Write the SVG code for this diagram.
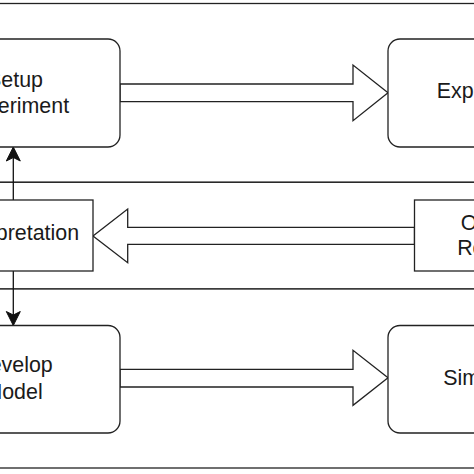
<svg xmlns="http://www.w3.org/2000/svg" width="474" height="474" viewBox="0 0 474 474">
  <defs>
    <style>
      .lane { fill: #ffffff; stroke: #222222; stroke-width: 1.3; }
      .node { fill: #ffffff; stroke: #222222; stroke-width: 1.3; }
      .block { fill: #ffffff; stroke: #222222; stroke-width: 1.3; stroke-linejoin: miter; }
      .edge { fill: none; stroke: #111111; stroke-width: 1.3; }
      .label { font-family: "Liberation Sans", Arial, sans-serif; font-size: 21.4px; fill: #1a1a1a; text-anchor: middle; }
    </style>
    <marker id="arrow" viewBox="0 0 16 16" refX="15" refY="8" markerWidth="16" markerHeight="16" markerUnits="userSpaceOnUse" orient="auto">
      <path d="M1,1 L15,8 L1,15 L4.5,8 Z" fill="#111111" stroke="#111111" stroke-width="1"/>
    </marker>
  </defs>
  <rect x="0" y="0" width="474" height="474" fill="#ffffff"/>

  <g id="lanes">
    <rect class="lane" x="-20" y="3.5" width="514" height="178.8"/>
    <rect class="lane" x="-20" y="182.3" width="514" height="106.7"/>
    <rect class="lane" x="-20" y="289" width="514" height="179"/>
  </g>

  <g id="connectors">
    <path class="block" d="M120,84 L353,84 L353,65 L388,92.8 L353,120.7 L353,101.7 L120,101.7 Z"/>
    <path class="block" d="M414.5,227.3 L127.7,227.3 L127.7,209 L93,235.9 L127.7,262.7 L127.7,244.3 L414.5,244.3 Z"/>
    <path class="block" d="M120,369.3 L353,369.3 L353,350.3 L388,377.8 L353,405.3 L353,387 L120,387 Z"/>
    <path class="edge" d="M13.3,200 L13.3,147" marker-end="url(#arrow)"/>
    <path class="edge" d="M13.3,271 L13.3,325.5" marker-end="url(#arrow)"/>
  </g>

  <g id="setup-experiment">
    <rect class="node" x="-82" y="39" width="202" height="108" rx="12" ry="12"/>
    <text class="label" x="15" y="87">Setup</text>
    <text class="label" x="15" y="112.5">Experiment</text>
  </g>

  <g id="experiment">
    <rect class="node" x="388" y="39" width="202" height="108" rx="12" ry="12"/>
    <text class="label" x="490.8" y="98.3">Experiment</text>
  </g>

  <g id="interpretation">
    <rect class="node" x="-53" y="200" width="146" height="71"/>
    <text class="label" x="16" y="240">Interpretation</text>
  </g>

  <g id="output-results">
    <rect class="node" x="414.5" y="200" width="152" height="71"/>
    <text class="label" x="492.8" y="229.5">Output</text>
    <text class="label" x="492.8" y="255">Results</text>
  </g>

  <g id="develop-model">
    <rect class="node" x="-84" y="325.5" width="204" height="107.5" rx="12" ry="12"/>
    <text class="label" x="13.5" y="372">Develop</text>
    <text class="label" x="13.5" y="398.5">Model</text>
  </g>

  <g id="simulation">
    <rect class="node" x="388" y="325.5" width="204" height="107.5" rx="12" ry="12"/>
    <text class="label" x="493.2" y="385">Simulation</text>
  </g>
</svg>
